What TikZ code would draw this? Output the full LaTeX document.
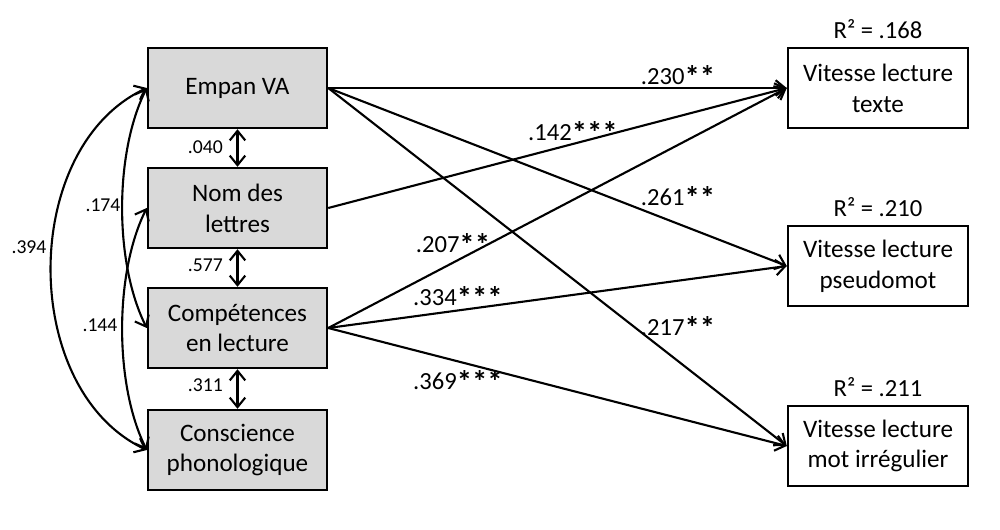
\documentclass[tikz,border=0pt]{standalone}
\usepackage{fontspec}
\setmainfont{Carlito}
\usetikzlibrary{arrows.meta,positioning}
\definecolor{BoxGray}{RGB}{217,217,217}
\newcommand\sg{\raisebox{-0.3ex}{\scalebox{1.25}{\textbf{*}}}}

\begin{document}
\begin{tikzpicture}[
    x=1cm,y=1cm,
    pred/.style={draw=black, fill=BoxGray, line width=1.4pt, minimum width=3.58cm, minimum height=1.6cm, align=center, font=\fontsize{14.3}{17.5}\selectfont},
    outc/.style={pred, fill=white, minimum width=3.6cm},
    path/.style={-{Straight Barb[length=1.9mm,width=3.1mm]}, line width=1.2pt},
    cov/.style={{Straight Barb[length=1.9mm,width=3.1mm]}-{Straight Barb[length=1.9mm,width=3.1mm]}, line width=1.2pt},
    coef/.style={font=\fontsize{14}{16}\selectfont},
    corr/.style={font=\fontsize{11.2}{13}\selectfont}
  ]
    \useasboundingbox (0,0) rectangle (20,-10.6);
    \foreach \y/\name/\lab in {-1.76/va/Empan VA,-4.16/nl/Nom des\\lettres,-6.56/cl/Compétences\\en lecture,-9.0/cp/Conscience\\phonologique} {
      \node[pred] (\name) at (4.75,\y) {\lab};
    }
    \foreach \y/\name/\lab/\rsq in {-1.76/txt/texte/.168,-5.32/pse/pseudomot/.210,-8.92/irr/mot irrégulier/.211} {
      \node[outc] (\name) at (17.56,\y) {Vitesse lecture\\\lab};
      \node[coef, above=0.04cm of \name] (r\name) {R² = \rsq};
    }
    \foreach \a/\b in {va/txt,nl/txt,cl/txt,va/pse,cl/pse,va/irr,cl/irr} {\draw[path] (\a.east) -- (\b.west);}
    \foreach \x/\y/\lab in {13.56/-1.54/.230\sg\sg,11.46/-2.66/.142\sg\sg\sg,13.56/-3.96/.261\sg\sg,9.06/-4.9/.207\sg\sg,9.16/-5.96/.334\sg\sg\sg,13.56/-6.56/.217\sg\sg,9.16/-7.64/.369\sg\sg\sg} {
      \node[coef] at (\x,\y) {\lab};
    }
    \foreach \a/\b in {va/nl,nl/cl,cl/cp} {\draw[cov] (\a) -- (\b);}
    \node[corr, anchor=east] (r1) at (4.58,-2.94) {.040};
    \node[corr, anchor=east] (r2) at (4.58,-5.30) {.577};
    \node[corr, anchor=east] (r3) at (4.58,-7.70) {.311};
    \draw[cov] (va.west) .. controls +(-2.55,-1.2) and +(-2.55,1.2) .. (cp.west);
    \draw[cov] (va.west) .. controls +(-0.65,-1.3) and +(-0.65,1.3) .. (cl.west);
    \draw[cov] (nl.west) .. controls +(-0.65,-1.3) and +(-0.65,1.3) .. (cp.west);
    \node[corr] (r4) at (0.58,-4.94) {.394};
    \node[corr] (r5) at (2.06,-4.10) {.174};
    \node[corr] (r6) at (2.00,-6.50) {.144};
  \end{tikzpicture}
\end{document}
